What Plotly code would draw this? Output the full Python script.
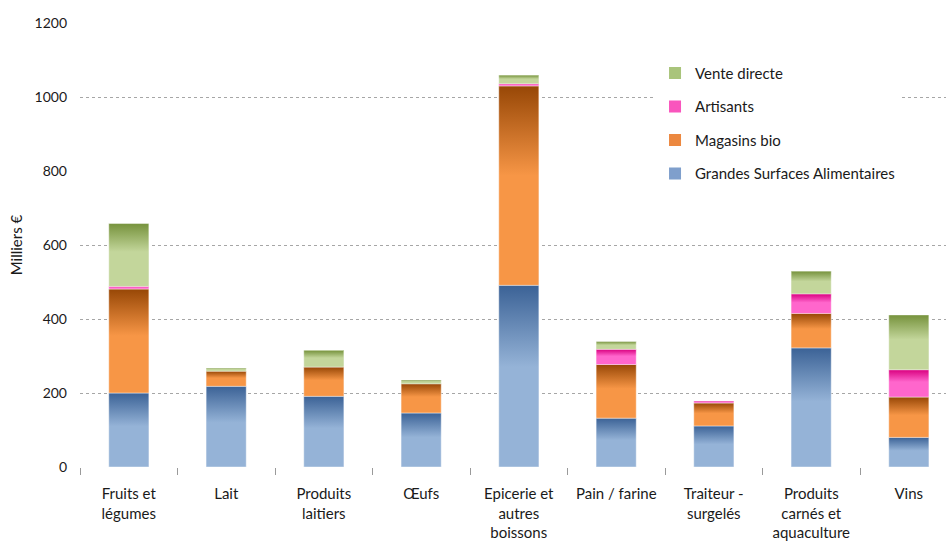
import plotly.graph_objects as go

# ---- data ----
categories = ["Fruits et<br>légumes", "Lait", "Produits<br>laitiers", "Œufs",
              "Epicerie et<br>autres<br>boissons", "Pain / farine",
              "Traiteur -<br>surgelés", "Produits<br>carnés et<br>aquaculture", "Vins"]
gsa = [200, 218, 191, 146, 491, 132, 111, 322, 80]          # Grandes Surfaces Alimentaires
magasins = [281, 41, 79, 79, 539, 145, 62, 93, 109]         # Magasins bio
artisans = [7, 0, 0, 0, 6, 41, 5, 53, 74]                   # Artisants
vente = [170, 8, 45, 10, 23, 21, 0, 61, 148]                # Vente directe
y_ticks = [0, 200, 400, 600, 800, 1000, 1200]
grid_vals = [200, 400, 600, 1000]

# name, values, legend colour, light colour, dark colour, legend rank
series = [
    ("Grandes Surfaces Alimentaires", gsa, "#7f9fcc", "#95b3d7", "#3b6296", 4),
    ("Magasins bio", magasins, "#ec8840", "#f79646", "#974706", 3),
    ("Artisants", artisans, "#f955bd", "#ff66cc", "#d9007f", 2),
    ("Vente directe", vente, "#a9c47b", "#c3d69b", "#76923c", 1),
]

FONT = "Lato"
TXT = "#1a1a1a"
W = 0.41
xs = list(range(len(categories)))

fig = go.Figure()

# stacked bars (base layer, also give the legend)
for name, vals, legcol, light, dark, rank in series:
    fig.add_trace(go.Bar(
        x=xs, y=vals, name=name, width=W, marker=dict(color=legcol, line=dict(width=0)),
        legendgroup=name, legendrank=rank, hoverinfo="skip", xaxis="x", yaxis="y"))

# gradient overlay of each segment, computed from the same data
bases = [0] * len(categories)
for name, vals, legcol, light, dark, rank in series:
    for i, v in enumerate(vals):
        b = bases[i]
        t = b + v
        if v > 0:
            fig.add_trace(go.Scatter(
                x=[i - W / 2, i + W / 2, i + W / 2, i - W / 2, i - W / 2],
                y=[b, b, t, t, b], mode="lines", fill="toself",
                line=dict(width=0.8, color="rgba(255,255,255,0.55)"),
                fillgradient=dict(type="vertical",
                                  colorscale=[[0, light], [0.55, light], [1, dark]]),
                showlegend=False, hoverinfo="skip", xaxis="x2", yaxis="y2"))
        bases[i] = t

xr = [-0.5, (946 - 80) / 97.5 - 0.5]
yr = [0, 1200]

fig.update_layout(
    width=946, height=552,
    margin=dict(l=80, r=0, t=22.7, b=85.3, autoexpand=False),
    paper_bgcolor="white", plot_bgcolor="white",
    barmode="stack",
    font=dict(family=FONT, size=15, color=TXT),
    showlegend=True,
    legend=dict(x=0.664, y=0.924, xanchor="left", yanchor="top",
                traceorder="grouped", tracegroupgap=11,
                bgcolor="white", font=dict(family=FONT, size=15, color=TXT),
                itemwidth=30),
    xaxis=dict(range=xr, tickmode="array", tickvals=xs, ticktext=categories,
               ticks="", showgrid=False, zeroline=False, showline=False,
               tickfont=dict(family=FONT, size=15, color=TXT),
               ticklabelstandoff=16),
    xaxis2=dict(range=xr, overlaying="x", anchor="y", side="bottom",
                tickmode="array", tickvals=[-0.5 + k for k in range(9)],
                ticks="outside", ticklen=7, tickcolor="#9a9a9a", tickwidth=1,
                showticklabels=False, showgrid=False, zeroline=False, showline=False),
    yaxis=dict(range=yr, tickmode="array", tickvals=grid_vals, showticklabels=False,
               showgrid=True, gridcolor="#a6a6a6", griddash="dot", gridwidth=1,
               zeroline=False, showline=False, ticks=""),
    yaxis2=dict(range=yr, overlaying="y", anchor="x", side="left",
                tickmode="array", tickvals=y_ticks,
                showgrid=False, zeroline=False, showline=False, ticks="",
                tickfont=dict(family=FONT, size=14, color=TXT),
                ticklabelstandoff=12,
                title=dict(text="Milliers €", font=dict(family=FONT, size=15, color=TXT),
                           standoff=8)),
)

fig.write_html("out.html")
